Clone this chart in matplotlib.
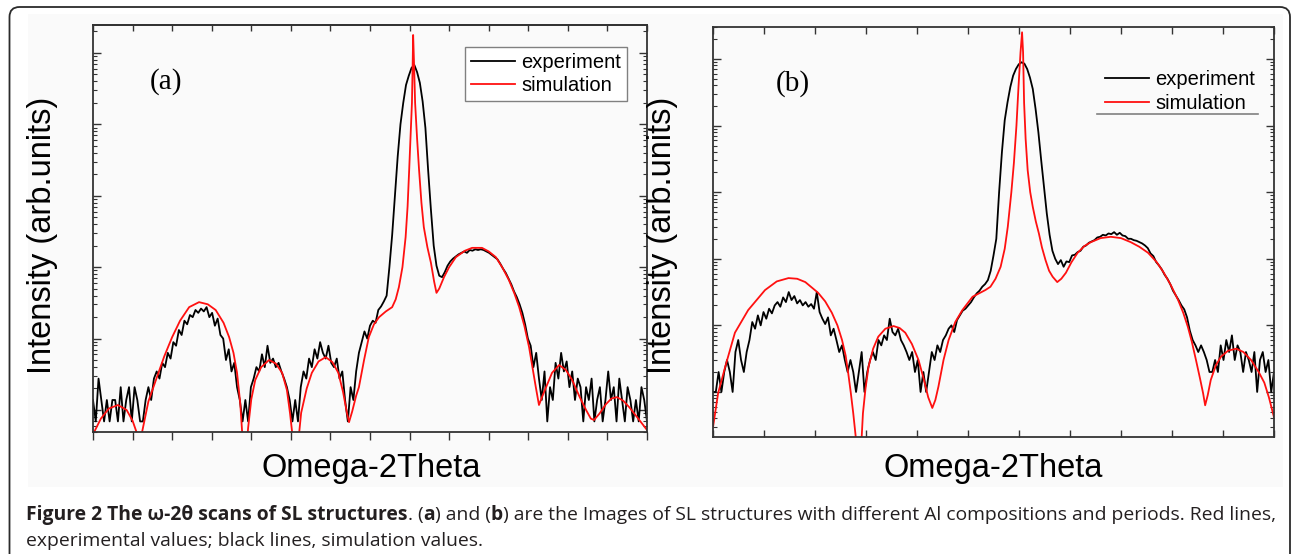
import numpy as np
import matplotlib
matplotlib.use("Agg")
import matplotlib.pyplot as plt
from matplotlib import font_manager
from matplotlib.patches import FancyBboxPatch, Rectangle
from matplotlib.ticker import MultipleLocator, LogLocator, NullFormatter

# ---- data (intensities stored as log10 values, x in scan units) ----
# panel (a): experiment sampled every 0.07 units from 0 to 14
exp_a_step = 0.07
exp_a_log = [
    1.14, 0.84, 1.44, 1.14, 0.84, 1.14, 0.84, 1.14, 1.14, 0.84,
    1.32, 0.84, 1.14, 1.32, 0.84, 1.32, 1.14, 0.84, 0.84, 1.14,
    1.32, 1.14, 1.44, 1.54, 1.44, 1.66, 1.60, 1.80, 1.72, 1.95,
    1.90, 2.12, 2.05, 2.25, 2.20, 2.33, 2.30, 2.40, 2.36, 2.42,
    2.38, 2.44, 2.30, 2.36, 2.18, 2.28, 2.05, 2.00, 1.70, 1.85,
    1.54, 1.66, 1.32, 1.14, 0.84, 1.14, 0.84, 1.32, 1.44, 1.60,
    1.54, 1.78, 1.60, 1.90, 1.66, 1.72, 1.60, 1.66, 1.54, 1.44,
    1.32, 1.14, 0.84, 1.14, 0.84, 1.32, 1.54, 1.44, 1.72, 1.60,
    1.85, 1.72, 1.95, 1.80, 1.72, 1.90, 1.66, 1.60, 1.72, 1.44,
    1.54, 1.14, 0.84, 1.32, 1.14, 1.54, 1.80, 1.95, 2.10, 2.00,
    2.18, 2.25, 2.22, 2.40, 2.45, 2.52, 2.60, 3.00, 3.45, 4.00,
    4.55, 5.00, 5.30, 5.55, 5.68, 5.79, 5.83, 5.73, 5.58, 5.32,
    4.95, 4.35, 3.80, 3.30, 3.02, 2.88, 2.86, 2.93, 3.02, 3.08,
    3.12, 3.15, 3.18, 3.20, 3.22, 3.20, 3.24, 3.23, 3.25, 3.24,
    3.25, 3.24, 3.22, 3.20, 3.17, 3.14, 3.11, 3.05, 2.98, 2.92,
    2.84, 2.76, 2.66, 2.58, 2.48, 2.36, 2.20, 2.00, 1.90, 1.60,
    1.80, 1.44, 1.14, 1.54, 0.84, 1.32, 1.14, 1.66, 1.44, 1.80,
    1.54, 1.68, 1.32, 1.54, 1.14, 1.44, 1.32, 0.84, 1.32, 1.14,
    1.44, 0.84, 1.14, 1.32, 0.84, 1.14, 1.54, 1.14, 1.32, 0.84,
    1.44, 1.14, 0.84, 1.32, 1.14, 0.84, 1.14, 0.84, 1.32, 1.14,
    0.84,
]
sim_a_x = [
    0.0, 0.2, 0.4, 0.63, 0.85, 1.0, 1.1, 1.17, 1.24, 1.4,
    1.59, 1.8, 2.0, 2.2, 2.43, 2.68, 2.9, 3.1, 3.3, 3.44,
    3.55, 3.64, 3.72, 3.78, 3.84, 3.92, 4.0, 4.1, 4.25, 4.45,
    4.62, 4.78, 4.9, 4.98, 5.04, 5.1, 5.16, 5.26, 5.4, 5.53,
    5.7, 5.88, 6.05, 6.2, 6.32, 6.42, 6.47, 6.55, 6.65, 6.72,
    6.85, 6.97, 7.1, 7.23, 7.4, 7.56, 7.65, 7.73, 7.82, 7.9,
    7.95, 7.99, 8.03, 8.06, 8.08, 8.09, 8.11, 8.14, 8.19, 8.24,
    8.3, 8.36, 8.45, 8.54, 8.62, 8.68, 8.75, 8.87, 9.0, 9.17,
    9.4, 9.58, 9.83, 10.0, 10.18, 10.35, 10.51, 10.65, 10.77, 10.9,
    11.02, 11.12, 11.19, 11.27, 11.36, 11.45, 11.6, 11.78, 11.95, 12.11,
    12.3, 12.46, 12.58, 12.66, 12.8, 12.96, 13.1, 13.24, 13.4, 13.55,
    13.75, 14.0,
]
sim_a_log = [
    0.66, 0.88, 1.02, 1.07, 1.00, 0.85, 0.69, 0.20, 0.69, 1.12,
    1.42, 1.75, 2.02, 2.25, 2.44, 2.51, 2.48, 2.40, 2.22, 2.02,
    1.80, 1.52, 1.10, 0.60, 0.20, 0.75, 1.15, 1.42, 1.60, 1.70,
    1.65, 1.52, 1.28, 0.95, 0.65, 0.20, 0.40, 0.96, 1.30, 1.52,
    1.68, 1.74, 1.67, 1.52, 1.25, 0.95, 0.83, 0.98, 1.20, 1.32,
    1.70, 2.02, 2.20, 2.30, 2.38, 2.44, 2.55, 2.72, 3.00, 3.42,
    3.85, 4.36, 4.90, 5.30, 5.90, 6.25, 5.90, 5.30, 4.80, 4.36,
    3.90, 3.56, 3.28, 3.06, 2.80, 2.64, 2.70, 2.86, 3.00, 3.14,
    3.23, 3.27, 3.27, 3.22, 3.14, 2.99, 2.82, 2.63, 2.44, 2.18,
    1.88, 1.55, 1.32, 1.07, 1.20, 1.32, 1.52, 1.63, 1.56, 1.42,
    1.18, 1.00, 0.88, 0.86, 0.95, 1.08, 1.16, 1.18, 1.13, 1.04,
    0.90, 0.72,
]

# panel (b): experiment sampled every 0.055 units from 0 to 11
exp_b_step = 0.055
exp_b_log = [
    1.00, 1.00, 1.30, 1.00, 1.30, 1.48, 1.30, 1.00, 1.60, 1.78,
    1.48, 1.30, 1.60, 1.78, 2.05, 1.95, 2.15, 2.00, 2.20, 2.10,
    2.25, 2.18, 2.30, 2.35, 2.28, 2.42, 2.35, 2.50, 2.38, 2.44,
    2.33, 2.38, 2.30, 2.35, 2.28, 2.32, 2.25, 2.50, 2.20, 2.10,
    2.02, 2.12, 1.85, 1.95, 1.78, 1.60, 1.70, 1.48, 1.30, 1.48,
    1.30, 1.00, 1.30, 1.60, 1.00, 1.30, 1.48, 1.60, 1.48, 1.78,
    1.70, 1.85, 1.78, 2.10, 1.90, 1.85, 1.95, 1.78, 1.70, 1.60,
    1.48, 1.60, 1.30, 1.48, 1.00, 1.30, 1.00, 1.30, 1.60, 1.48,
    1.70, 1.60, 1.78, 1.85, 1.95, 2.00, 1.90, 2.08, 2.15, 2.22,
    2.25, 2.30, 2.35, 2.42, 2.48, 2.52, 2.58, 2.62, 2.68, 2.82,
    3.05, 3.30, 4.00, 4.60, 5.08, 5.35, 5.58, 5.75, 5.85, 5.92,
    5.95, 5.93, 5.85, 5.72, 5.55, 5.25, 4.90, 4.48, 4.08, 3.68,
    3.36, 3.12, 3.00, 2.92, 2.98, 2.88, 2.96, 2.95, 3.05, 3.06,
    3.10, 3.12, 3.18, 3.20, 3.24, 3.26, 3.28, 3.32, 3.33, 3.36,
    3.35, 3.38, 3.37, 3.40, 3.36, 3.39, 3.35, 3.34, 3.30, 3.30,
    3.28, 3.27, 3.25, 3.23, 3.20, 3.16, 3.08, 3.04, 2.95, 2.90,
    2.84, 2.76, 2.70, 2.62, 2.52, 2.45, 2.38, 2.30, 2.24, 2.12,
    1.92, 1.78, 1.70, 1.60, 1.70, 1.60, 1.48, 1.30, 1.30, 1.48,
    1.30, 1.70, 1.48, 1.78, 1.60, 1.85, 1.48, 1.70, 1.60, 1.30,
    1.60, 1.48, 1.30, 1.60, 1.00, 1.48, 1.60, 1.30, 1.48, 1.00,
    1.30,
]
sim_b_x = [
    0.0, 0.1, 0.24, 0.43, 0.69, 1.02, 1.25, 1.48, 1.65, 1.81,
    2.06, 2.2, 2.33, 2.44, 2.53, 2.6, 2.65, 2.7, 2.75, 2.83,
    2.9, 2.94, 2.99, 3.05, 3.14, 3.24, 3.38, 3.54, 3.66, 3.77,
    3.9, 4.03, 4.13, 4.22, 4.3, 4.36, 4.42, 4.52, 4.62, 4.75,
    4.89, 5.09, 5.34, 5.44, 5.54, 5.64, 5.72, 5.78, 5.85, 5.9,
    5.95, 5.99, 6.03, 6.06, 6.08, 6.1, 6.13, 6.17, 6.22, 6.27,
    6.33, 6.39, 6.45, 6.52, 6.59, 6.66, 6.75, 6.83, 6.92, 7.03,
    7.15, 7.28, 7.41, 7.6, 7.8, 8.0, 8.19, 8.36, 8.53, 8.7,
    8.84, 8.98, 9.12, 9.22, 9.31, 9.39, 9.47, 9.55, 9.61, 9.65,
    9.7, 9.76, 9.86, 9.96, 10.1, 10.26, 10.4, 10.55, 10.7, 10.81,
    10.9, 11.0,
]
sim_b_log = [
    0.47, 0.98, 1.38, 1.89, 2.23, 2.53, 2.66, 2.71, 2.70, 2.65,
    2.49, 2.36, 2.19, 2.00, 1.78, 1.55, 1.29, 1.00, 0.68, 0.10,
    0.10, 0.68, 1.05, 1.38, 1.65, 1.83, 1.95, 1.99, 1.96, 1.89,
    1.72, 1.48, 1.20, 0.92, 0.76, 0.88, 1.08, 1.48, 1.78, 2.05,
    2.23, 2.43, 2.53, 2.58, 2.70, 2.88, 3.15, 3.48, 4.00, 4.44,
    5.00, 5.58, 6.10, 6.40, 6.10, 5.34, 4.80, 4.33, 4.00, 3.78,
    3.56, 3.38, 3.17, 2.98, 2.82, 2.73, 2.65, 2.70, 2.79, 2.95,
    3.09, 3.19, 3.25, 3.31, 3.33, 3.31, 3.25, 3.18, 3.09, 2.95,
    2.79, 2.60, 2.38, 2.19, 1.98, 1.75, 1.48, 1.20, 0.98, 0.80,
    0.95, 1.18, 1.40, 1.53, 1.62, 1.65, 1.60, 1.48, 1.30, 1.14,
    0.92, 0.62,
]

legend_labels = ["experiment", "simulation"]
y_title = "Intensity (arb.units)"
x_title = "Omega-2Theta"
caption_line1 = [
    ("Figure 2 The \u03c9-2\u03b8 scans of SL structures", True),
    (". (", False), ("a", True), (") and (", False), ("b", True),
    (") are the Images of SL structures with different Al compositions "
     "and periods. Red lines,", False),
]
caption_line2 = "experimental values; black lines, simulation values."

W, H = 1293, 554
fig = plt.figure(figsize=(W / 100, H / 100), dpi=100)
fig.patch.set_facecolor("white")

# light backgrounds of the pasted panels and the rounded frame
for x0, x1 in [(28, 655), (650, 1283)]:
    fig.add_artist(Rectangle((x0 / W, 1 - 487 / H), (x1 - x0) / W, 473 / H,
                             transform=fig.transFigure, color="#fafafa",
                             zorder=-5, lw=0))
fig.add_artist(FancyBboxPatch((0.095, -0.5), 12.805, 5.97,
                              boxstyle="round,pad=0,rounding_size=0.1",
                              transform=fig.dpi_scale_trans, fill=False,
                              ec="#2b2b2b", lw=1.3))

ax_a = fig.add_axes([93 / W, 1 - 432 / H, 554 / W, 407 / H])
ax_b = fig.add_axes([713 / W, 1 - 437 / H, 561 / W, 410 / H])

panels = [
    (ax_a, exp_a_step, exp_a_log, sim_a_x, sim_a_log, 14, (0.692, 6.39)),
    (ax_b, exp_b_step, exp_b_log, sim_b_x, sim_b_log, 11, (0.324, 6.48)),
]
for ax, step, e_log, s_x, s_log, xmax, ylog in panels:
    ax.set_facecolor("none")
    ex = np.arange(len(e_log)) * step
    ax.plot(ex, 10 ** np.array(e_log), color="black", lw=1.3,
            label=legend_labels[0])
    ax.plot(s_x, 10 ** np.array(s_log), color="#ff1010", lw=1.3,
            label=legend_labels[1])
    ax.set_yscale("log")
    ax.set_xlim(0, xmax)
    ax.set_ylim(10 ** ylog[0], 10 ** ylog[1])
    ax.xaxis.set_major_locator(MultipleLocator(1))
    ax.yaxis.set_major_locator(LogLocator(base=10, numticks=20))
    ax.yaxis.set_minor_locator(LogLocator(base=10, subs=np.arange(2, 10) * 1.0,
                                          numticks=20))
    ax.xaxis.set_major_formatter(NullFormatter())
    ax.yaxis.set_major_formatter(NullFormatter())
    ax.yaxis.set_minor_formatter(NullFormatter())
    ax.tick_params(axis="y", which="major", direction="in", length=6,
                   width=1.0, right=True, colors="#333333")
    ax.tick_params(axis="y", which="minor", direction="in", length=3,
                   width=0.8, right=True, colors="#333333")
    for sp in ax.spines.values():
        sp.set_color("#333333")
        sp.set_linewidth(1.3)

# (a): bottom ticks point out, top ticks in
ax_a.tick_params(axis="x", which="major", direction="out", length=6,
                 width=1.0, top=False, colors="#333333")
sec = ax_a.secondary_xaxis("top")
sec.xaxis.set_major_locator(MultipleLocator(1))
sec.xaxis.set_major_formatter(NullFormatter())
sec.tick_params(direction="in", length=4, width=1.0, colors="#333333")
sec.spines["top"].set_color("#333333")
sec.spines["top"].set_linewidth(1.3)
# (b): all ticks inward
ax_b.tick_params(axis="x", which="major", direction="in", length=5,
                 width=1.0, top=True, colors="#333333")

leg_font = {"family": "Liberation Sans", "size": 14.5}
leg_a = ax_a.legend(loc="upper right", bbox_to_anchor=(0.964, 0.946),
                    prop=leg_font, frameon=True, fancybox=False,
                    edgecolor="#808080", framealpha=1, borderpad=0.3,
                    labelspacing=0.2, handlelength=2.2, handletextpad=0.3,
                    borderaxespad=0)
leg_a.get_frame().set_linewidth(1.0)
ax_b.legend(loc="upper right", bbox_to_anchor=(0.977, 0.910), prop=leg_font,
            frameon=False, borderpad=0.3, labelspacing=0.25,
            handlelength=2.2, handletextpad=0.3, borderaxespad=0)
ax_b.plot([0.684, 0.971], [0.788, 0.788], transform=ax_b.transAxes,
          color="#808080", lw=1.2, clip_on=False)

ax_a.text(0.132, 0.862, "(a)", transform=ax_a.transAxes, ha="center",
          va="center", fontsize=21, family="Liberation Serif")
ax_b.text(0.143, 0.863, "(b)", transform=ax_b.transAxes, ha="center",
          va="center", fontsize=21, family="Liberation Serif")

for xc in (43, 663):
    fig.text(xc / W, 1 - 235 / H, y_title, rotation=90, ha="center",
             va="center", fontsize=23.5, family="Liberation Sans")
for xc in (371, 993):
    fig.text(xc / W, 1 - 468 / H, x_title, ha="center", va="center",
             fontsize=23.5, family="Liberation Sans")

# caption
try:
    font_manager.findfont(font_manager.FontProperties(family="Liberation Sans Narrow"),
                          fallback_to_default=False)
    cap_family = ["Liberation Sans Narrow", "DejaVu Sans"]
except ValueError:
    cap_family = ["Open Sans", "DejaVu Sans"]

renderer = fig.canvas.get_renderer()


def put_line(pieces, y, size):
    x = 26
    made = []
    for s, bold in pieces:
        t = fig.text(x / W, 1 - y / H, s, fontsize=size, family=cap_family,
                     fontweight="bold" if bold else "normal", ha="left",
                     va="center", color="#231f20")
        x += t.get_window_extent(renderer).width
        made.append(t)
    return made, x


trial, x_end = put_line(caption_line1, 515, 14)
for t in trial:
    t.remove()
cap_size = 14 * (1280 - 26) / (x_end - 26)
put_line(caption_line1, 515, cap_size)
put_line([(caption_line2, False)], 541, cap_size)

fig.savefig("out.png", dpi=100)
